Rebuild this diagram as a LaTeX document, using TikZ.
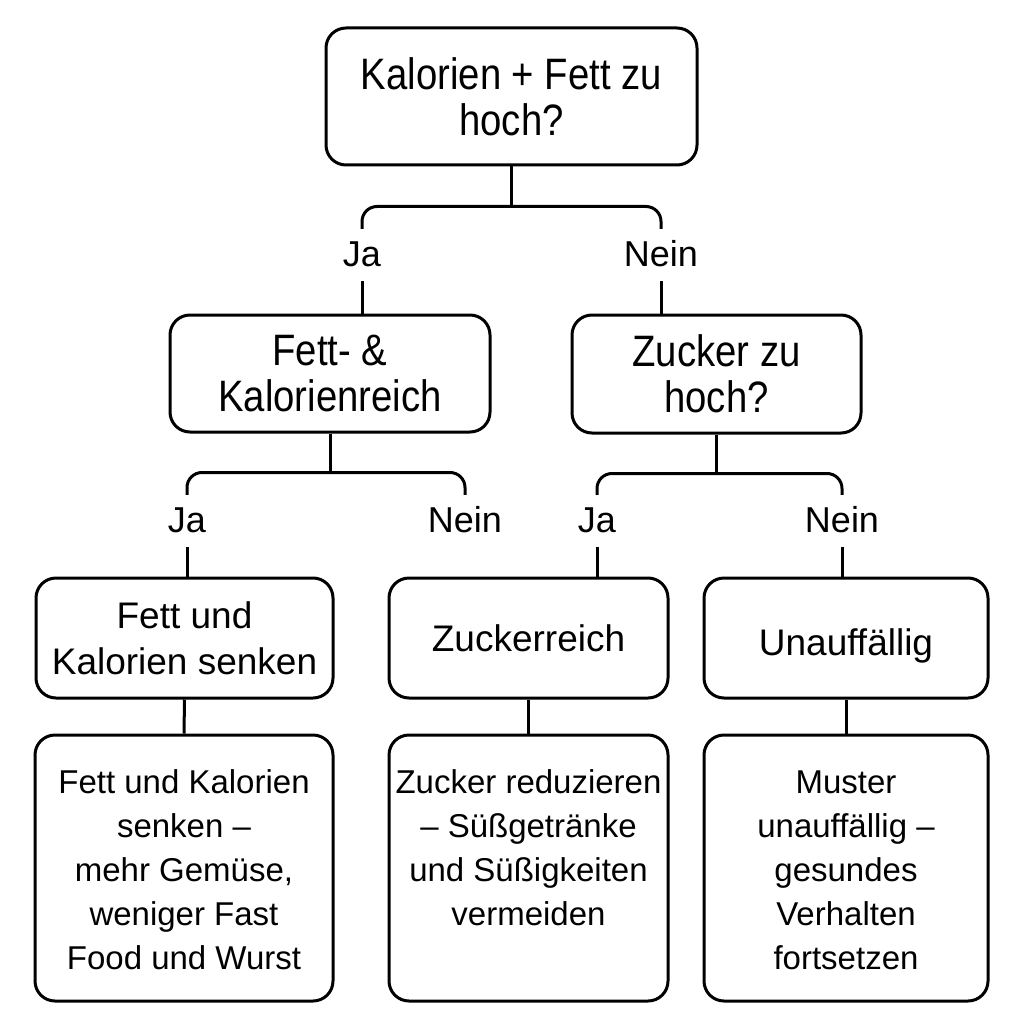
\documentclass[tikz,border=0pt]{standalone}
\usepackage{fontspec}
\setmainfont{Liberation Sans}
\newfontfamily\narrowFont[FakeStretch=0.87]{Liberation Sans}
\usetikzlibrary{calc}
\tikzstyle{chart} = [x = 1pt, y = -1pt]
\tikzstyle{boxStyle} = [draw=black, line width=3pt, rounded corners=20pt, fill=white, inner sep=0pt, align=center]
\tikzstyle{questionText} = [font=\narrowFont\fontsize{44}{46}\selectfont]
\tikzstyle{resultText} = [font=\fontsize{37}{46}\selectfont]
\tikzstyle{adviceText} = [font=\fontsize{33}{44}\selectfont]
\tikzstyle{answerLabel} = [inner sep=0pt, minimum height=52pt, text height=25pt, text depth=2pt, font=\fontsize{36}{40}\selectfont]
\tikzstyle{linkLine} = [draw=black, line width=3pt]
\newcommand{\branch}[4]{
  \draw [linkLine] (#1.south) -- (#2);
  \draw [linkLine, rounded corners=15pt] (#3.north) |- (#2) -| (#4.north);
}
\newcommand{\adviceBox}[4]{\node [boxStyle, adviceText] (#1) at (#2) {\parbox[c][266pt][t]{#3}{\centering\vspace*{28pt}\strut #4}};}

\begin{document}
\begin{tikzpicture}[chart]
  \fill [white] (0,0) rectangle (1024,1024);
  \useasboundingbox (0,0) rectangle (1024,1024);

  % questions
  \node [boxStyle, questionText, minimum width=371pt, minimum height=137pt] (top) at (511.5,96.5) {Kalorien + Fett zu\\hoch?};
  \node [boxStyle, questionText, minimum width=320pt, minimum height=117pt] (fettK) at (330,373.5) {Fett- \&\\Kalorienreich};
  \node [boxStyle, questionText, minimum width=289pt, minimum height=118pt] (zuckerQ) at (716.5,374) {Zucker zu\\hoch?};

  % answers
  \node [answerLabel] (jaA) at (362,255) {Ja};
  \node [answerLabel] (neinA) at (661,255) {Nein};
  \node [answerLabel] (jaB) at (187,521) {Ja};
  \node [answerLabel] (neinB) at (465,521) {Nein};
  \node [answerLabel] (jaC) at (597,521) {Ja};
  \node [answerLabel] (neinC) at (842,521) {Nein};

  % results
  \node [boxStyle, resultText, minimum width=297pt, minimum height=120pt] (senken) at (184.5,638) {Fett und\\Kalorien senken};
  \node [boxStyle, resultText, minimum width=279pt, minimum height=120pt] (zuckerR) at (528.5,638) {Zuckerreich};
  \node [boxStyle, resultText, minimum width=284pt, minimum height=120pt, text height=38pt, text depth=4pt] (unauff) at (846,638) {Unauff\"allig};

  \adviceBox{ratA}{184,868}{298pt}{Fett und Kalorien\\senken --\\mehr Gem\"use,\\weniger Fast\\Food und Wurst}
  \adviceBox{ratB}{528.5,868}{279pt}{Zucker reduzieren\\-- S\"u\ss getr\"anke\\und S\"u\ss igkeiten\\vermeiden}
  \adviceBox{ratC}{846,868}{284pt}{Muster\\unauff\"allig --\\gesundes\\Verhalten\\fortsetzen}

  % lines
  \coordinate (joinA) at ($(top.south)+(0,40)$);
  \coordinate (joinB) at ($(fettK.south)+(0,39)$);
  \coordinate (joinC) at ($(zuckerQ.south)+(0,39)$);
  \branch{top}{joinA}{jaA}{neinA}
  \branch{fettK}{joinB}{jaB}{neinB}
  \branch{zuckerQ}{joinC}{jaC}{neinC}
  \draw [linkLine] (jaA.south) -- (jaA.south |- fettK.north);
  \draw [linkLine] (neinA.south) -- (neinA.south |- zuckerQ.north);
  \draw [linkLine] (jaB.south) -- (jaB.south |- senken.north);
  \draw [linkLine] (jaC.south) -- (jaC.south |- zuckerR.north);
  \draw [linkLine] (neinC.south) -- (neinC.south |- unauff.north);
  \draw [linkLine] (senken.south) -- (ratA.north);
  \draw [linkLine] (zuckerR.south) -- (ratB.north);
  \draw [linkLine] (unauff.south) -- (ratC.north);
\end{tikzpicture}
\end{document}
